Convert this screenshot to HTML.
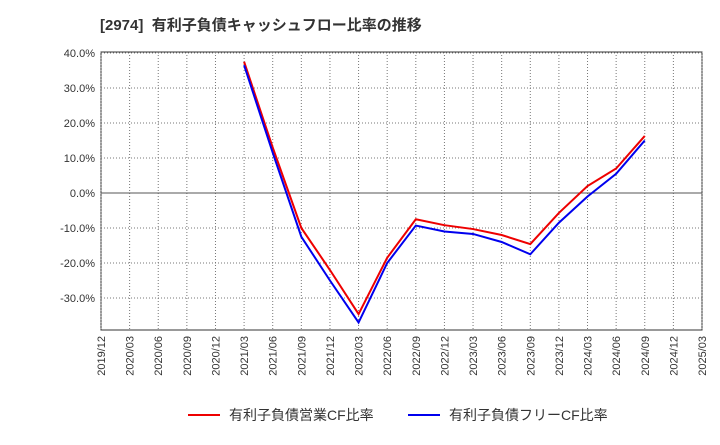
<!DOCTYPE html>
<html><head><meta charset="utf-8"><style>
body{margin:0;background:#fff;width:720px;height:440px;overflow:hidden;font-family:"Liberation Sans","Noto Sans CJK JP",sans-serif}
</style></head><body>
<svg id="chart" width="720" height="440" xmlns="http://www.w3.org/2000/svg">
<text x="100" y="30" font-size="15" font-weight="bold" fill="#333" xml:space="preserve" font-family="Liberation Sans, Noto Sans CJK JP, sans-serif">[2974]  有利子負債キャッシュフロー比率の推移</text>
<g id="grid"></g><g id="axes"></g><g id="series"></g>
<g font-size="14" fill="#333" font-family="Liberation Sans, Noto Sans CJK JP, sans-serif">
<line x1="188" y1="415" x2="220" y2="415" stroke="#e00" stroke-width="2"/>
<text x="229" y="420">有利子負債営業CF比率</text>
<line x1="408" y1="415" x2="440" y2="415" stroke="#00e" stroke-width="2"/>
<text x="449" y="420">有利子負債フリーCF比率</text>
</g>
</svg>
<script>
const xLabels=["2019/12","2020/03","2020/06","2020/09","2020/12","2021/03","2021/06","2021/09","2021/12","2022/03","2022/06","2022/09","2022/12","2023/03","2023/06","2023/09","2023/12","2024/03","2024/06","2024/09","2024/12","2025/03"];
const yTicks=[40,30,20,10,0,-10,-20,-30];
const startIndex=5;
const redValues=[37.5,13,-10,-22,-34.6,-18.5,-7.5,-9.2,-10.3,-12,-14.6,-5.7,2,7,16.3];
const blueValues=[36.5,11.5,-12.5,-25,-37,-20,-9.3,-11,-11.7,-14,-17.5,-8.5,-1,5.5,15];
const L=101,R=702,T=52,B=330;
const NS="http://www.w3.org/2000/svg";
function xs(i){return L+i*(R-L)/(xLabels.length-1);}
function ys(v){return 193-v*3.5;}
function mk(t,a,p){const e=document.createElementNS(NS,t);for(const k in a)e.setAttribute(k,a[k]);p.appendChild(e);return e;}
const grid=document.getElementById('grid'),axes=document.getElementById('axes'),ser=document.getElementById('series');
mk('rect',{x:L,y:T,width:R-L,height:B-T,fill:'none',stroke:'#333','stroke-width':1},grid);
xLabels.forEach((l,i)=>{const x=xs(i);
 const g=mk('line',{x1:x,y1:T,x2:x,y2:B,stroke:'#777','stroke-dasharray':'1,2','stroke-width':1},grid);
 
 const t=mk('text',{x:0,y:0,'font-size':11,fill:'#333','text-anchor':'end',transform:`translate(${x+4},${B+6}) rotate(-90)`},axes);
 t.textContent=l;});
yTicks.forEach(v=>{const y=ys(v);
 const g=mk('line',{x1:L,y1:y,x2:R,y2:y,stroke:v===0?'#555':'#777','stroke-dasharray':v===0?'none':'1,2','stroke-width':1},grid);
 
 const t=mk('text',{x:L-6,y:y+4,'font-size':11,fill:'#333','text-anchor':'end'},axes);
 t.textContent=v.toFixed(1)+'%';});
function line(vals,c,name){const p=vals.map((v,i)=>xs(startIndex+i)+','+ys(v)).join(' ');
 const e=mk('polyline',{points:p,fill:'none',stroke:c,'stroke-width':2},ser);
 }
line(redValues,'#e00','operating-cf-line');
line(blueValues,'#00e','free-cf-line');
</script>
</body></html>
